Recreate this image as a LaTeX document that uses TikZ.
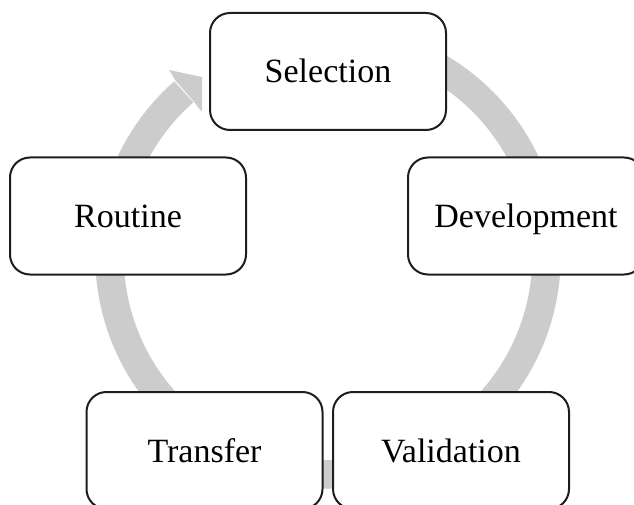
\documentclass[tikz,border=0pt]{standalone}
\usepackage{fontspec}
\setmainfont{Liberation Serif}
\definecolor{ringgray}{RGB}{204,204,204}
\definecolor{boxline}{RGB}{30,30,30}
\begin{document}
\begin{tikzpicture}[x=1pt,y=1pt,
  stage/.style={draw=boxline, line width=2pt, fill=white, rounded corners=20pt,
    minimum width=236pt, minimum height=117pt, inner sep=0pt,
    text height=23pt, text depth=0pt, font=\fontsize{34}{40}\selectfont},
  ring/.style={draw=ringgray, line width=28.5pt, line cap=butt}]
\useasboundingbox (0,0) rectangle (634,504);
\clip (0,0) rectangle (634,504);
% cycle ring with arrowhead
\draw[ring] (328,248) ++(90:218.5pt) arc[start angle=90, end angle=-228.7, radius=218.5pt];
\fill[ringgray] (169,434) -- (202,427) -- (202,395) -- (201.4,392.5) -- (194.2,402) -- (175.8,423.1) -- cycle;
% stages
\node[stage] (sel) at (328,432.5) {Selection};
\node[stage] (dev) at (526,288) {Development};
\node[stage] (val) at (451,53.5) {Validation};
\node[stage] (tra) at (204.5,53.5) {Transfer};
\node[stage] (rou) at (128,288) {Routine};
\end{tikzpicture}
\end{document}
